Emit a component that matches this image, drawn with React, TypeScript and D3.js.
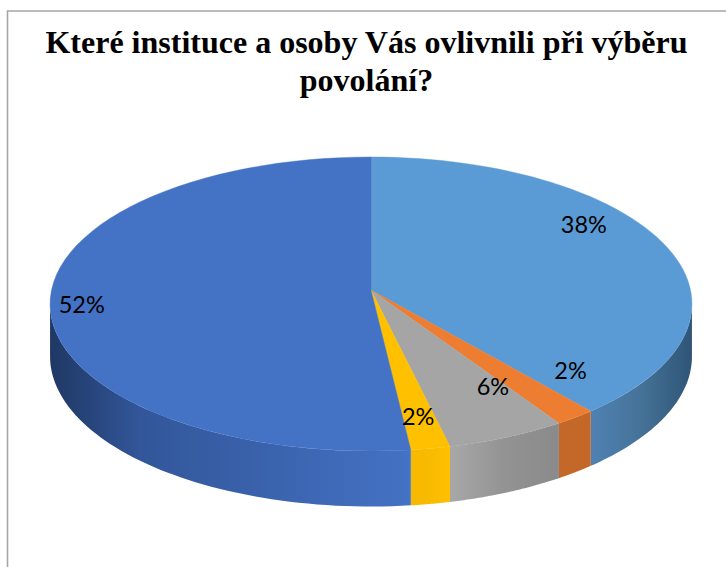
import React from "react";
import * as d3 from "d3";

const titleLines = ["Které instituce a osoby Vás ovlivnili při výběru", "povolání?"];
const sliceNames = ["A", "B", "C", "D", "E"];
const shares = [39.0, 1.9, 5.5, 1.8, 51.8];
const labels = ["38%", "2%", "6%", "2%", "52%"];
const topColors = ["#5b9bd5", "#ed7d31", "#a5a5a5", "#ffc000", "#4472c4"];
const wallLeft = ["#4f82b4", "#c46829", "#a8a8a8", "#f6b900", "#1f3864"];
const wallMid = ["#457297", "#c46829", "#939393", "#f8bb00", "#325699"];
const wallRight = ["#2e5577", "#c46829", "#8a8a8a", "#ffc000", "#4472c4"];
const labelAngles = [55.8, 131.3, 149.9, 170.3, 264];
const labelRadii = [0.842, 0.79, 0.716, 0.81, 0.902];

const W = 726, H = 567;
const CX = 371, CY = 290, A = 319.5, B = 145.7, K = 0.0952;
const WALL_FROM = (95 * Math.PI) / 180, WALL_TO = (265 * Math.PI) / 180;

const project = (a: number, r = 1): [number, number] => {
  const u = r * Math.sin(a), v = -r * Math.cos(a), w = 1 - K * v;
  return [CX + (A * u) / w, CY + (B * v) / w];
};
const drop = (a: number): [number, number] => {
  const [x, y] = project(a);
  return [x, y + 52 + 3.5 * -Math.cos(a)];
};
const samples = (a0: number, a1: number) => d3.range(0, 61).map((i) => a0 + ((a1 - a0) * i) / 60);
const line = d3.line<[number, number]>();

const pieData = d3.pie<number>().sort(null)(shares);

export default function App() {
  return (
    <svg width={W} height={H} style={{ position: "absolute", left: 0, top: 0 }}>
      <rect width={W} height={H} fill="#fff" />
      <path d={`M7.5 ${H}V11H${W}`} fill="none" stroke="#a6a6a6" strokeWidth={1.6} />
      <defs>
        {pieData.map((d, i) => {
          const a0 = Math.max(d.startAngle, WALL_FROM), a1 = Math.min(d.endAngle, WALL_TO);
          const left = Math.min(project(a0)[0], project(a1)[0]);
          const right = Math.max(project(a0)[0], project(a1)[0]);
          return (
            <linearGradient key={i} id={`wall${i}`} gradientUnits="userSpaceOnUse" x1={left} x2={right} y1={0} y2={0}>
              <stop offset="0" stopColor={wallLeft[i]} />
              <stop offset={i === 4 ? "0.25" : "0.5"} stopColor={wallMid[i]} />
              <stop offset="1" stopColor={wallRight[i]} />
            </linearGradient>
          );
        })}
      </defs>
      {pieData.map((d, i) => {
        const a0 = Math.max(d.startAngle, WALL_FROM), a1 = Math.min(d.endAngle, WALL_TO);
        if (a1 <= a0) return null;
        const arc = samples(a0, a1);
        const pts = [...arc.map((a) => project(a)), ...arc.slice().reverse().map(drop)];
        return <path key={sliceNames[i]} d={line(pts) + "Z"} fill={`url(#wall${i})`} />;
      })}
      {pieData.map((d, i) => {
        const pts: [number, number][] = [[CX, CY], ...samples(d.startAngle, d.endAngle).map((a) => project(a))];
        return <path key={sliceNames[i]} d={line(pts) + "Z"} fill={topColors[i]} stroke={topColors[i]} strokeWidth={0.4} />;
      })}
      {labels.map((t, i) => {
        const [x, y] = project((labelAngles[i] * Math.PI) / 180, labelRadii[i]);
        return (
          <text key={i} x={x} y={y} textAnchor="middle" dominantBaseline="central"
            fontFamily="Lato, 'Open Sans', sans-serif" fontSize={23.5} fill="#000">{t}</text>
        );
      })}
      {titleLines.map((t, i) => (
        <text key={i} x={366.5} y={53 + i * 38} textAnchor="middle"
          fontFamily="'Liberation Serif', serif" fontWeight="bold" fontSize={32} fill="#000">{t}</text>
      ))}
    </svg>
  );
}
